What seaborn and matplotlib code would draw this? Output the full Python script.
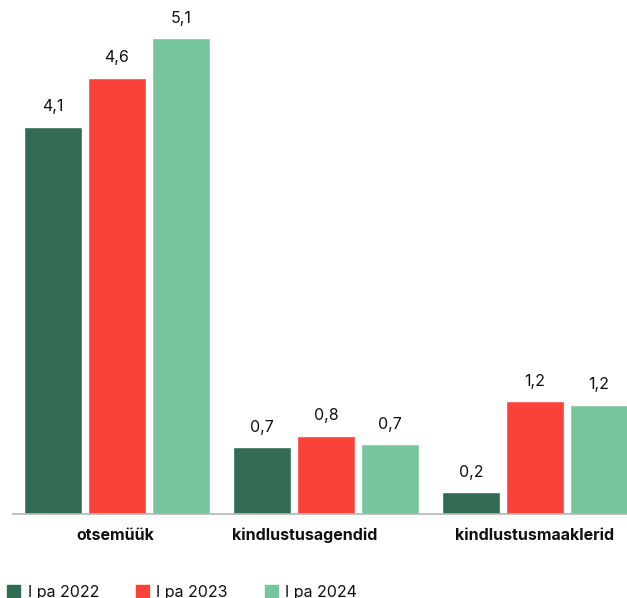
import pandas as pd
import matplotlib.pyplot as plt
import seaborn as sns

categories = ["otsemüük", "kindlustusagendid", "kindlustusmaaklerid"]
periods = ["I pa 2022", "I pa 2023", "I pa 2024"]
v2022 = [4.12, 0.71, 0.23]
v2023 = [4.64, 0.83, 1.20]
v2024 = [5.06, 0.74, 1.16]
colors = ["#316b51", "#f9423a", "#76c59d"]

rows = []
for p, vals in zip(periods, [v2022, v2023, v2024]):
    for c, v in zip(categories, vals):
        rows.append({"kanal": c, "periood": p, "vaartus": v})
df = pd.DataFrame(rows)

sns.set_style("white")
plt.rcParams['font.family'] = ['Inter', 'DejaVu Sans']

fig = plt.figure(figsize=(6.27, 5.98), dpi=100)
ax = fig.add_axes([12.5/627, 84/598, 614.5/627, 494/598])

sns.barplot(data=df, x="kanal", y="vaartus", hue="periood", palette=colors,
            width=0.92, gap=0.1, saturation=1, ax=ax, legend=False)

for cont in ax.containers:
    labels = [f"{b.get_height():.1f}".replace(".", ",") for b in cont]
    ax.bar_label(cont, labels=labels, padding=9, fontsize=11.5, color="#111111")

ax.set_xlim(-0.5, -0.5 + 614.5/209)
ax.set_ylim(0, 494/94)
ax.set_xlabel("")
ax.set_ylabel("")
ax.set_yticks([])
# middle label sits a bit left of its group in the original
ax.set_xticks([-0.01, 0.9, 2.0])
ax.set_xticklabels(categories)
ax.tick_params(axis="x", length=0, pad=10)
for lab in ax.get_xticklabels():
    lab.set_fontweight("bold")
    lab.set_fontsize(11.5)
    lab.set_color("#111111")

sns.despine(ax=ax, left=True)
ax.spines["bottom"].set_color("#b5b5b5")
ax.spines["bottom"].set_linewidth(1.2)

handles = [plt.Rectangle((0, 0), 1, 1, color=c) for c in colors]
fig.legend(handles, periods, loc="lower left", bbox_to_anchor=(-0.012, -0.027),
           ncol=3, frameon=False, fontsize=11.5, handlelength=0.8, handleheight=0.8,
           handletextpad=0.5, columnspacing=2.3, labelcolor="#111111")

fig.savefig("out.png", dpi=100)
